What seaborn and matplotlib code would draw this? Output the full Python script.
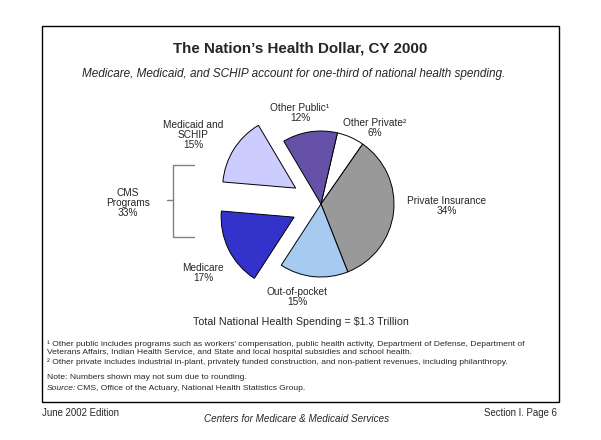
import matplotlib
matplotlib.use("Agg")
import matplotlib.pyplot as plt
import seaborn as sns
from matplotlib.patches import Rectangle

# data
slices = ["Other Private", "Private Insurance", "Out-of-pocket",
          "Medicare", "Medicaid and SCHIP", "Other Public"]
shares = [6, 34, 15, 17, 15, 12]
cms_programs = 33
total_spending = 1.3

colors = ["#FFFFFF", "#999999", "#A6CAF0", "#3333CC", "#CCCCFF", "#6651A8"]
pulled_out = [False, False, False, True, True, False]

sns.set_style("white")
plt.rcParams["font.family"] = ["Liberation Sans", "DejaVu Sans"]

W, H = 601, 440
fig = plt.figure(figsize=(W / 100, H / 100), dpi=100)
ax = fig.add_axes([0, 0, 1, 1])


def Y(py):
    # pixel row (from top) -> data y
    return H - py


cx, cy, r = 321, 204, 73
explode = [0.41 * r if p else 0 for p in pulled_out]  # pie explode is in data units
ax.pie(shares, colors=colors, explode=explode, startangle=77, counterclock=False,
       center=(cx, Y(cy)), radius=r,
       wedgeprops=dict(edgecolor="black", linewidth=0.7))
ax.set_xlim(0, W)
ax.set_ylim(0, H)
ax.set_aspect("equal")
ax.set_axis_off()

# frame
ax.add_patch(Rectangle((42, Y(402)), 517, 376, fill=False, edgecolor="black", linewidth=1))

ax.text(300, Y(48), "The Nation\u2019s Health Dollar, CY 2000", ha="center", va="center",
        fontsize=10.9, fontweight="bold")
ax.text(294, Y(74), "Medicare, Medicaid, and SCHIP account for one-third of national health spending.",
        ha="center", va="center", fontsize=8.45, style="italic")

lab = dict(ha="center", va="center", fontsize=7.3, linespacing=1.05)
ax.text(300, Y(113), f"Other Public\u00b9\n{shares[5]}%", **lab)
ax.text(375, Y(128), f"Other Private\u00b2\n{shares[0]}%", **lab)
ax.text(447, Y(206), f"Private Insurance\n{shares[1]}%", **lab)
ax.text(297, Y(297), f"Out-of-pocket\n{shares[2]}%", **lab)
ax.text(203, Y(273), f"Medicare\n{shares[3]}%", **lab)
ax.text(193, Y(135), f"Medicaid and\nSCHIP\n{shares[4]}%", **lab)
ax.text(128, Y(203), f"CMS\nPrograms\n{cms_programs}%", **lab)

# bracket for CMS programs
bc = "#808080"
ax.plot([194, 173, 173, 194], [Y(165), Y(165), Y(237), Y(237)], color=bc, lw=1)
ax.plot([167, 173], [Y(200), Y(200)], color=bc, lw=1)

ax.text(301, Y(322), f"Total National Health Spending = ${total_spending} Trillion",
        ha="center", va="center", fontsize=7.7)

fn = dict(ha="left", va="center", fontsize=6.1)
ax.text(47, Y(344), "\u00b9 Other public includes programs such as workers\u2019 compensation, "
        "public health activity, Department of Defense, Department of", **fn)
ax.text(47, Y(353), "Veterans Affairs, Indian Health Service, and State and local hospital subsidies and school health.", **fn)
ax.text(47, Y(362), "\u00b2 Other private includes industrial in-plant, privately funded construction, "
        "and non-patient revenues, including philanthropy.", **fn)
ax.text(47, Y(377), "Note: Numbers shown may not sum due to rounding.", **fn)
src = ax.text(47, Y(388), "Source:", style="italic", **fn)
src_w = src.get_window_extent(fig.canvas.get_renderer()).width
ax.text(47 + src_w + 1, Y(388), "CMS, Office of the Actuary, National Health Statistics Group.", **fn)

ax.text(42, Y(413), "June 2002 Edition", ha="left", va="center", fontsize=6.9)
ax.text(297, Y(419), "Centers for Medicare & Medicaid Services", ha="center", va="center",
        fontsize=7.1, style="italic")
ax.text(557, Y(413), "Section I. Page 6", ha="right", va="center", fontsize=6.9)

fig.savefig("out.png", dpi=100, facecolor="white")
